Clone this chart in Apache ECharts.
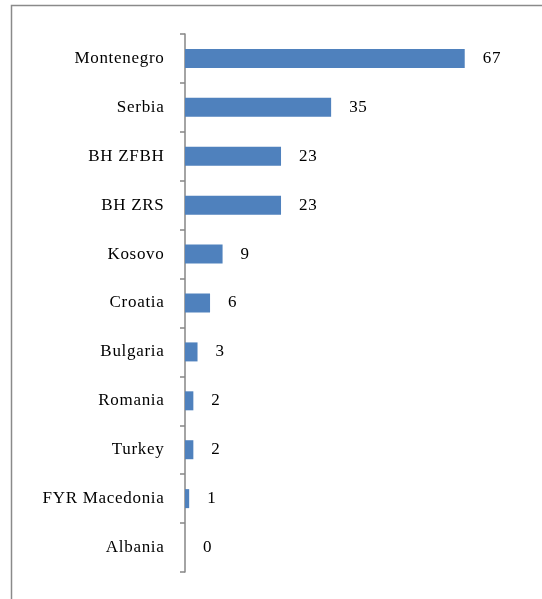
<!DOCTYPE html>
<html><head><meta charset="utf-8">
<script src="https://cdn.jsdelivr.net/npm/echarts@6/dist/echarts.min.js"></script>
<style>html,body{margin:0;padding:0;background:#fff;}#c{width:542px;height:599px;}</style>
</head><body><div id="c"></div>
<script>
// Excel-like wide text rendering: add a small letter spacing to canvas text
(function(){
  const P = CanvasRenderingContext2D.prototype;
  const fT = P.fillText, mT = P.measureText;
  P.fillText = function(){ try{ this.letterSpacing = '0.7px'; }catch(e){} return fT.apply(this, arguments); };
  P.measureText = function(){ try{ this.letterSpacing = '0.7px'; }catch(e){} return mT.apply(this, arguments); };
})();

const categories = ["Montenegro","Serbia","BH ZFBH","BH ZRS","Kosovo","Croatia","Bulgaria","Romania","Turkey","FYR Macedonia","Albania"];
const values = [67,35,23,23,9,6,3,2,2,1,0];
const chart = echarts.init(document.getElementById('c'), null, {renderer:'canvas'});
const font = "'Liberation Serif','Times New Roman',serif";
chart.setOption({
  animation:false,
  backgroundColor:'#fff',
  graphic:[{type:'rect',shape:{x:11.5,y:5.5,width:600,height:700},style:{fill:'none',stroke:'#8a8a8a',lineWidth:1.5},silent:true}],
  grid:{left:185,right:23,top:34,bottom:27,containLabel:false},
  xAxis:{type:'value',min:0,max:80,show:false},
  yAxis:{type:'category',data:categories,inverse:true,offset:1.5,
    axisLine:{lineStyle:{color:'#868686',width:1.5}},
    axisTick:{show:true,length:5,lineStyle:{color:'#868686',width:1.5}},
    axisLabel:{color:'#000',fontFamily:font,fontSize:17,margin:19,padding:[3,0,0,0]}},
  series:[{type:'bar',data:values,barWidth:19,itemStyle:{color:'#4F81BD'},
    label:{show:true,position:'right',distance:18,color:'#000',fontFamily:font,fontSize:17,padding:[2,0,0,0]}}]
});
</script></body></html>
